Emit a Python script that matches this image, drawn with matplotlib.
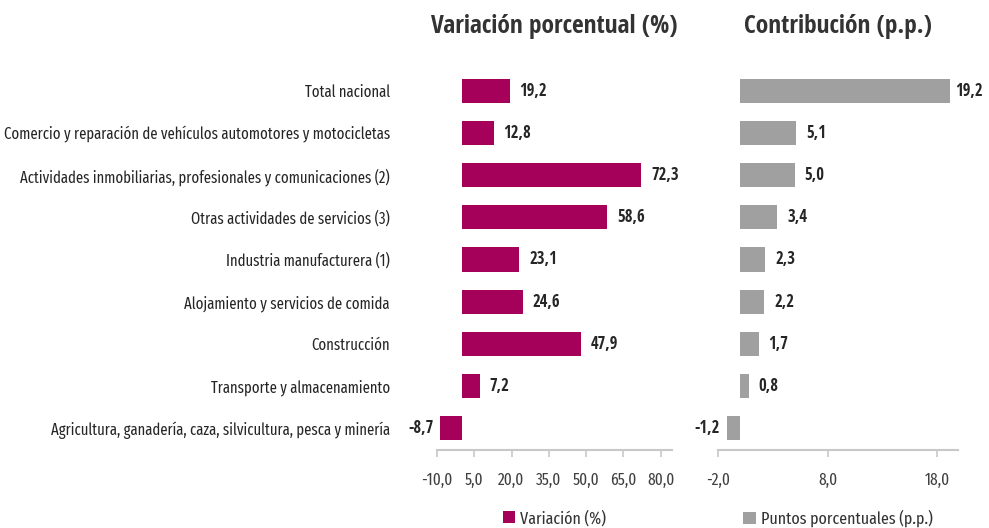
import matplotlib
matplotlib.use("Agg")
import matplotlib.pyplot as plt
from matplotlib import font_manager

fl = font_manager.fontManager.ttflist
names = set(f.name for f in fl)
bold_font = "Open Sans Condensed" if "Open Sans Condensed" in names else "DejaVu Sans"
reg_font = bold_font
for cand in ["Fira Sans Extra Condensed", "Fira Sans Condensed", "IBM Plex Sans Condensed"]:
    if cand in names:
        reg_font = cand
        break
plt.rcParams['font.family'] = [reg_font, 'DejaVu Sans']

sectores = [
    "Total nacional",
    "Comercio y reparación de vehículos automotores y motocicletas",
    "Actividades inmobiliarias, profesionales y comunicaciones (2)",
    "Otras actividades de servicios (3)",
    "Industria manufacturera (1)",
    "Alojamiento y servicios de comida",
    "Construcción",
    "Transporte y almacenamiento",
    "Agricultura, ganadería, caza, silvicultura, pesca y minería",
]
variacion = [19.2, 12.8, 72.3, 58.6, 23.1, 24.6, 47.9, 7.2, -8.7]
contribucion = [19.2, 5.1, 5.0, 3.4, 2.3, 2.2, 1.7, 0.8, -1.2]
ticks_var = [-10, 5, 20, 35, 50, 65, 80]
ticks_pp = [-2, 8, 18]

magenta = "#A5005A"
gris = "#A0A0A0"
txt = "#262626"

fig = plt.figure(figsize=(9.89, 5.28), dpi=100)
ax1 = fig.add_axes([437/989, 1-450/528, 235/989, 381/528])
ax2 = fig.add_axes([718/989, 1-450/528, 240/989, 381/528])

y = list(range(len(sectores)))


def fmt(v):
    return f"{v:.1f}".replace(".", ",")


def panel(ax, vals, color, ticks, xlim, label, title):
    bars = ax.barh(y, vals, height=0.57, color=color, label=label)
    ax.set_xlim(*xlim)
    ax.set_ylim(len(sectores) - 0.48, -0.52)
    for s in ['top', 'right', 'left']:
        ax.spines[s].set_visible(False)
    ax.spines['bottom'].set_color("#C8C8C8")
    ax.spines['bottom'].set_linewidth(1.5)
    ax.set_xticks(ticks)
    ax.set_xticklabels([fmt(t) for t in ticks], fontsize=12, color="#404040")
    ax.tick_params(axis='x', length=5, width=1.2, color="#C8C8C8", pad=11)
    ax.tick_params(axis='y', length=0)
    for yi, v in zip(y, vals):
        off = 10 if v >= 0 else -7
        if v == max(vals) and ax is ax2:
            off = 5
        ax.annotate(fmt(v), (v, yi), xytext=(off * 0.72, 0), textcoords='offset points',
                    ha='left' if v >= 0 else 'right', va='center',
                    fontsize=12, fontweight='bold', color=txt, family=[bold_font, 'DejaVu Sans'])
    ax.legend(loc='center', bbox_to_anchor=(0.5, -0.18), frameon=False,
              handlelength=0.7, handleheight=0.7, handletextpad=0.3, labelcolor="#333333",
              prop={'size': 12.5})
    ax.set_title(title, fontsize=18.3, fontweight='bold', color="#333333", pad=0, y=1.095,
                 family=[bold_font, 'DejaVu Sans'])
    return bars


panel(ax1, variacion, magenta, ticks_var, (-10, 84.6), "Variación (%)", "Variación porcentual (%)")
panel(ax2, contribucion, gris, ticks_pp, (-2, 19.9), "Puntos porcentuales (p.p.)", "Contribución (p.p.)")

ax1.set_yticks(y)
ax1.set_yticklabels(sectores, fontsize=11.5, color="#262626")
ax1.tick_params(axis='y', pad=34)
ax2.set_yticks([])

fig.savefig("out.png", dpi=100)
